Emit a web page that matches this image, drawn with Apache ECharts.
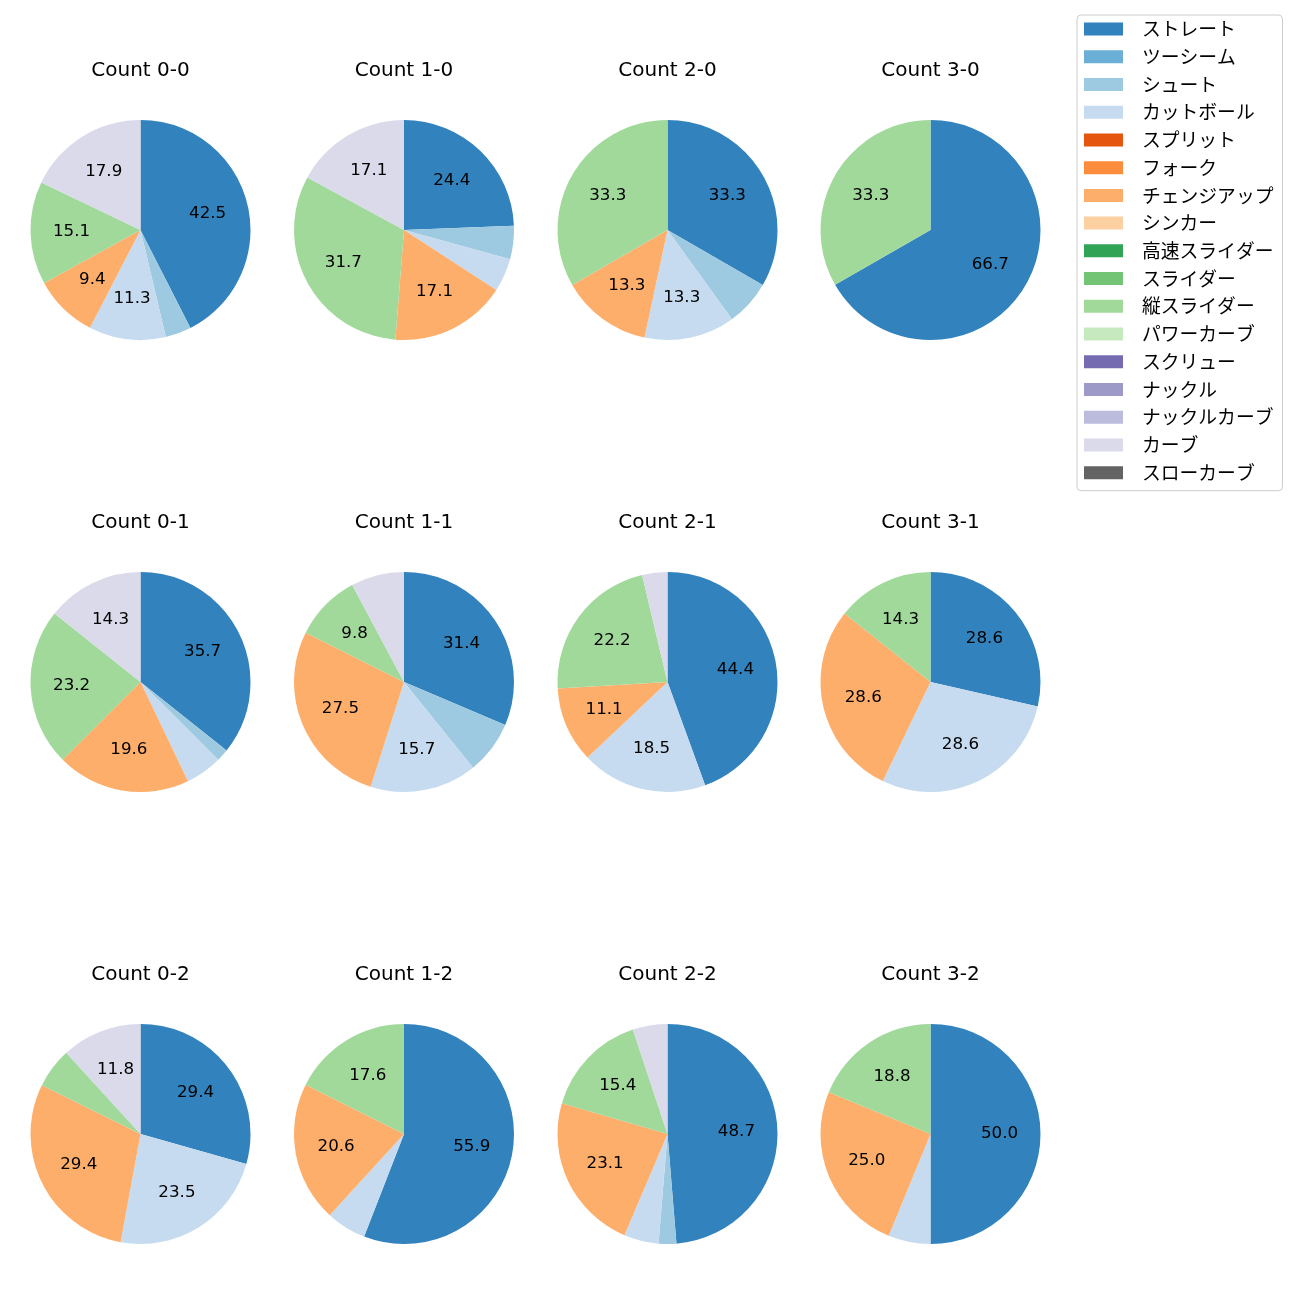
<!DOCTYPE html>
<html>
<head>
<meta charset="utf-8">
<script src="https://cdn.jsdelivr.net/npm/echarts@6/dist/echarts.min.js"></script>
<style>
html,body{margin:0;padding:0;background:#fff;}
#chart{width:1300px;height:1300px;}
</style>
</head>
<body>
<div id="chart"></div>
<script>
// Pitch types (legend order)
const categories = ['ストレート','ツーシーム','シュート','カットボール','スプリット','フォーク','チェンジアップ','シンカー','高速スライダー','スライダー','縦スライダー','パワーカーブ','スクリュー','ナックル','ナックルカーブ','カーブ','スローカーブ'];
const colors = ['#3182bd','#6baed6','#9ecae1','#c6dbef','#e6550d','#fd8d3c','#fdae6b','#fdd0a2','#31a354','#74c476','#a1d99b','#c7e9c0','#756bb1','#9e9ac8','#bcbddc','#dadaeb','#636363'];

// Panel titles (row-major)
const panelTitles = ['Count 0-0','Count 1-0','Count 2-0','Count 3-0','Count 0-1','Count 1-1','Count 2-1','Count 3-1','Count 0-2','Count 1-2','Count 2-2','Count 3-2'];

// Percentages per pitch type, in the order of categories
const count00 = [42.5,0,3.8,11.3,0,0,9.4,0,0,0,15.1,0,0,0,0,17.9,0];
const count10 = [24.4,0,4.9,4.9,0,0,17.1,0,0,0,31.7,0,0,0,0,17.1,0];
const count20 = [33.3,0,6.7,13.3,0,0,13.3,0,0,0,33.3,0,0,0,0,0,0];
const count30 = [66.7,0,0,0,0,0,0,0,0,0,33.3,0,0,0,0,0,0];
const count01 = [35.7,0,1.8,5.4,0,0,19.6,0,0,0,23.2,0,0,0,0,14.3,0];
const count11 = [31.4,0,7.8,15.7,0,0,27.5,0,0,0,9.8,0,0,0,0,7.8,0];
const count21 = [44.4,0,0,18.5,0,0,11.1,0,0,0,22.2,0,0,0,0,3.7,0];
const count31 = [28.6,0,0,28.6,0,0,28.6,0,0,0,14.3,0,0,0,0,0,0];
const count02 = [29.4,0,0,23.5,0,0,29.4,0,0,0,5.9,0,0,0,0,11.8,0];
const count12 = [55.9,0,0,5.9,0,0,20.6,0,0,0,17.6,0,0,0,0,0,0];
const count22 = [48.7,0,2.6,5.1,0,0,23.1,0,0,0,15.4,0,0,0,0,5.1,0];
const count32 = [50.0,0,0,6.2,0,0,25.0,0,0,0,18.8,0,0,0,0,0,0];
const panels = [count00,count10,count20,count30,count01,count11,count21,count31,count02,count12,count22,count32];

const LATIN = '"DejaVu Sans", "Noto Sans CJK JP"';
const CJK = '"Noto Sans CJK JP"';
const colX = [140.5, 404, 667.5, 930.5];
const rowY = [230, 682, 1134];
const R = 110;

const series = [];
const titles = [];
panels.forEach(function (vals, i) {
  const cx = colX[i % 4], cy = rowY[Math.floor(i / 4)];
  const data = categories.map(function (name, k) {
    return { name: name, value: vals[k], itemStyle: { color: colors[k] } };
  });
  series.push({
    type: 'pie', center: [cx, cy], radius: R, startAngle: 90, clockwise: true,
    data: data, label: { show: false }, labelLine: { show: false },
    itemStyle: { borderWidth: 0 }, silent: true
  });
  titles.push({
    text: panelTitles[i], left: cx, top: cy - 169, textAlign: 'center', padding: 0,
    textStyle: { fontFamily: LATIN, fontSize: 20, fontWeight: 'normal', color: '#000' }
  });
});
// transparent ring series to place percentage labels at 0.6 R
panels.forEach(function (vals, i) {
  const cx = colX[i % 4], cy = rowY[Math.floor(i / 4)];
  const data = categories.map(function (name, k) {
    return { name: name, value: vals[k], itemStyle: { color: 'rgba(0,0,0,0)' } };
  });
  series.push({
    type: 'pie', center: [cx, cy], radius: [R * 0.2, R], startAngle: 90, clockwise: true,
    data: data, silent: true, itemStyle: { borderWidth: 0 },
    labelLine: { show: false },
    label: {
      show: true, position: 'inside', color: '#000', fontFamily: LATIN, fontSize: 16.7,
      formatter: function (p) { return p.value >= 8 ? p.value.toFixed(1) : ''; }
    }
  });
});

const chart = echarts.init(document.getElementById('chart'), null, { renderer: 'canvas' });
chart.setOption({
  backgroundColor: '#fff',
  animation: false,
  title: titles,
  legend: {
    data: categories, orient: 'vertical', left: 1077, top: 15,
    icon: 'rect', itemWidth: 39, itemHeight: 13, itemGap: 8.95,
    padding: [4.6, 9, 8.6, 7],
    borderColor: '#cccccc', borderWidth: 1, borderRadius: 4,
    textStyle: { fontFamily: CJK, fontSize: 18.8, color: '#000', padding: [0, 0, 0, 14] },
    selectedMode: false
  },
  series: series
});
</script>
</body>
</html>
